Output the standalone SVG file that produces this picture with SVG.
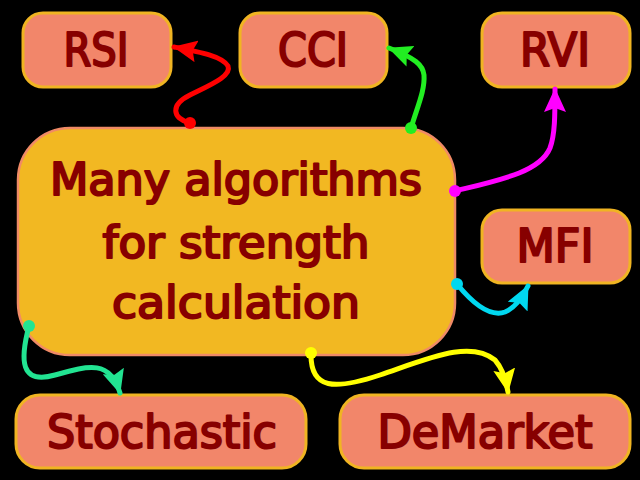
<svg xmlns="http://www.w3.org/2000/svg" width="640" height="480" viewBox="0 0 640 480">
  <style>
    .node rect { fill: #f2866a; stroke: #f0b422; stroke-width: 3; }
    .main rect { fill: #f2b822; stroke: #f08a66; stroke-width: 2.5; }
    text { font-family: "DejaVu Sans Condensed", "DejaVu Sans", sans-serif; font-weight: normal; fill: #870000; stroke: #870000; stroke-width: 2; stroke-linejoin: round; text-anchor: middle; }
    .nt { font-size: 46px; }
    .mt { font-size: 44px; }
    .conn path { fill: none; stroke-width: 5; stroke-linecap: round; }
  </style>
  <defs>
    <marker id="aR" viewBox="0 0 24 22" refX="23" refY="11" markerWidth="24" markerHeight="22" markerUnits="userSpaceOnUse" orient="auto"><path d="M0,0 L24,11 L0,22 L4,11 Z" fill="#ff0000"/></marker>
    <marker id="aG" viewBox="0 0 24 22" refX="23" refY="11" markerWidth="24" markerHeight="22" markerUnits="userSpaceOnUse" orient="auto"><path d="M0,0 L24,11 L0,22 L4,11 Z" fill="#22ee22"/></marker>
    <marker id="aM" viewBox="0 0 24 22" refX="23" refY="11" markerWidth="24" markerHeight="22" markerUnits="userSpaceOnUse" orient="auto"><path d="M0,0 L24,11 L0,22 L4,11 Z" fill="#ff00ff"/></marker>
    <marker id="aC" viewBox="0 0 24 22" refX="23" refY="11" markerWidth="24" markerHeight="22" markerUnits="userSpaceOnUse" orient="auto"><path d="M0,0 L24,11 L0,22 L4,11 Z" fill="#00d8f0"/></marker>
    <marker id="aS" viewBox="0 0 24 22" refX="23" refY="11" markerWidth="24" markerHeight="22" markerUnits="userSpaceOnUse" orient="auto"><path d="M0,0 L24,11 L0,22 L4,11 Z" fill="#22e492"/></marker>
    <marker id="aY" viewBox="0 0 24 22" refX="23" refY="11" markerWidth="24" markerHeight="22" markerUnits="userSpaceOnUse" orient="auto"><path d="M0,0 L24,11 L0,22 L4,11 Z" fill="#ffff00"/></marker>
  </defs>
  <rect width="640" height="480" fill="#000000"/>

  <g id="main" class="main">
    <rect x="18" y="128" width="437" height="227" rx="52" ry="52"/>
    <text class="mt" x="236" y="195" textLength="372" lengthAdjust="spacingAndGlyphs">Many algorithms</text>
    <text class="mt" x="236" y="258" textLength="267" lengthAdjust="spacingAndGlyphs">for strength</text>
    <text class="mt" x="236" y="318" textLength="248" lengthAdjust="spacingAndGlyphs">calculation</text>
  </g>

  <g id="rsi" class="node">
    <rect x="23" y="13" width="148" height="74" rx="20" ry="20"/>
    <text class="nt" x="96" y="66" textLength="65" lengthAdjust="spacingAndGlyphs">RSI</text>
  </g>
  <g id="cci" class="node">
    <rect x="240" y="13" width="147" height="74" rx="20" ry="20"/>
    <text class="nt" x="313" y="66" textLength="70" lengthAdjust="spacingAndGlyphs">CCI</text>
  </g>
  <g id="rvi" class="node">
    <rect x="482" y="13" width="148" height="74" rx="20" ry="20"/>
    <text class="nt" x="555" y="66" textLength="70" lengthAdjust="spacingAndGlyphs">RVI</text>
  </g>
  <g id="mfi" class="node">
    <rect x="482" y="210" width="148" height="73" rx="20" ry="20"/>
    <text class="nt" x="555" y="262" textLength="77" lengthAdjust="spacingAndGlyphs">MFI</text>
  </g>
  <g id="stochastic" class="node">
    <rect x="16" y="395" width="290" height="73" rx="24" ry="24"/>
    <text class="nt" x="162" y="448" textLength="230" lengthAdjust="spacingAndGlyphs">Stochastic</text>
  </g>
  <g id="demarket" class="node">
    <rect x="340" y="395" width="290" height="73" rx="24" ry="24"/>
    <text class="nt" x="485" y="448" textLength="215" lengthAdjust="spacingAndGlyphs">DeMarket</text>
  </g>

  <g id="connectors" class="conn">
    <path d="M190,123 C172,118 170,105 190,95 C210,85 232,76 228,66 C222,56 200,52 174,47" stroke="#ff0000" marker-end="url(#aR)"/>
    <circle cx="190" cy="123" r="6" fill="#ff0000"/>
    <path d="M411,128 C418,105 425,90 424,75 C423,65 415,58 389,48" stroke="#22ee22" marker-end="url(#aG)"/>
    <circle cx="411" cy="128" r="6" fill="#22ee22"/>
    <path d="M455,191 C500,180 540,172 550,148 C555,135 555,115 555,89" stroke="#ff00ff" marker-end="url(#aM)"/>
    <circle cx="455" cy="191" r="6" fill="#ff00ff"/>
    <path d="M457,284 C470,300 488,318 505,312 C515,308 522,298 528,286" stroke="#00d8f0" marker-end="url(#aC)"/>
    <circle cx="457" cy="284" r="6" fill="#00d8f0"/>
    <path d="M29,326 C20,360 20,385 55,375 C90,365 110,360 120,393" stroke="#22e492" marker-end="url(#aS)"/>
    <circle cx="29" cy="326" r="6" fill="#22e492"/>
    <path d="M311,353 C310,390 335,390 380,375 C430,358 470,340 495,360 C502,368 506,380 508,392" stroke="#ffff00" marker-end="url(#aY)"/>
    <circle cx="311" cy="353" r="6" fill="#ffff00"/>
  </g>
</svg>
